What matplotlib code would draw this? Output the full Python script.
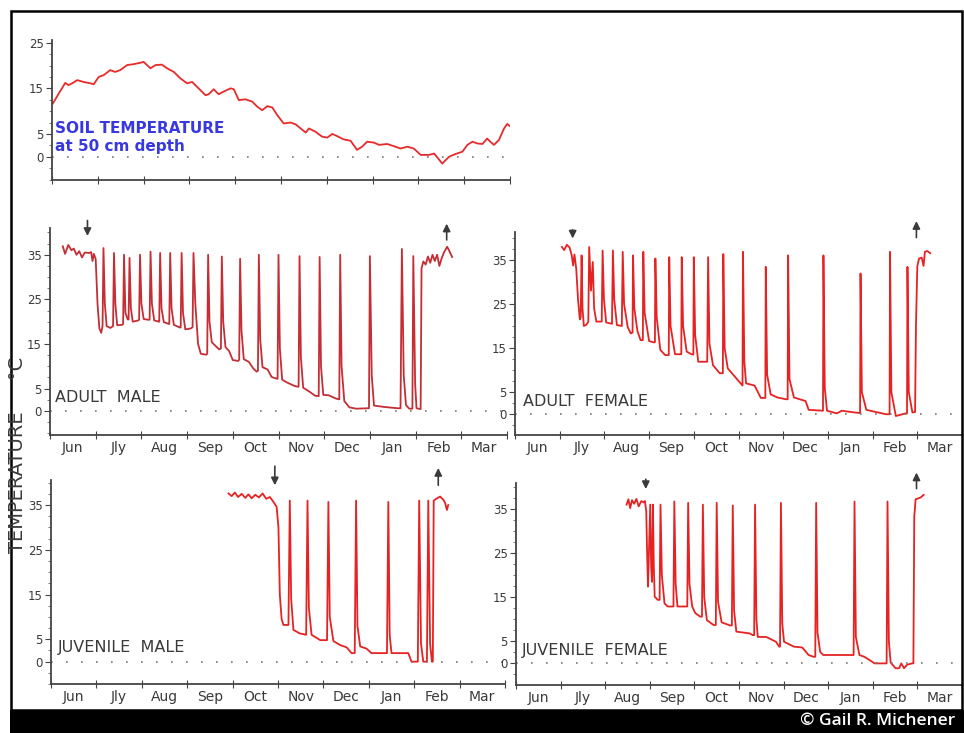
import matplotlib
matplotlib.use('Agg')
import matplotlib.pyplot as plt
from matplotlib.patches import Rectangle
from matplotlib.ticker import FixedLocator

# x values are months after 1 June (0 = start of Jun, 10 = end of Mar), y in deg C
months = ['Jun', 'Jly', 'Aug', 'Sep', 'Oct', 'Nov', 'Dec', 'Jan', 'Feb', 'Mar']

soil_x = [0.02, 0.15, 0.29, 0.36, 0.44, 0.55, 0.69, 0.84, 0.91, 1.02, 1.13, 1.27, 1.38, 1.49,
          1.64, 1.78, 1.93, 2.00, 2.15, 2.26, 2.40, 2.51, 2.66, 2.80, 2.95, 3.06, 3.20, 3.35,
          3.42, 3.53, 3.64, 3.75, 3.90, 3.97, 4.08, 4.22, 4.37, 4.48, 4.59, 4.70, 4.81, 4.92,
          5.06, 5.21, 5.32, 5.43, 5.54, 5.61, 5.75, 5.90, 6.01, 6.12, 6.23, 6.37, 6.52, 6.66,
          6.77, 6.88, 7.03, 7.14, 7.32, 7.50, 7.61, 7.76, 7.90, 8.05, 8.23, 8.34, 8.41, 8.52,
          8.67, 8.81, 8.96, 9.07, 9.18, 9.29, 9.40, 9.50, 9.57, 9.65, 9.76, 9.87, 9.94, 10.0]
soil_y = [11.7, 13.9, 16.2, 15.7, 16.1, 16.8, 16.4, 16.1, 15.9, 17.5, 17.9, 19.0, 18.6, 19.0,
          20.1, 20.3, 20.6, 20.8, 19.4, 20.1, 20.2, 19.4, 18.6, 17.2, 16.1, 16.4, 15.0, 13.5,
          13.7, 14.8, 13.7, 14.3, 15.0, 14.8, 12.4, 12.6, 12.1, 11.0, 10.2, 11.1, 10.8, 9.1,
          7.3, 7.5, 7.1, 6.2, 5.3, 6.2, 5.5, 4.4, 4.2, 5.0, 4.5, 3.8, 3.5, 1.5,
          2.2, 3.3, 3.1, 2.6, 2.8, 2.2, 1.8, 2.2, 1.8, 0.4, 0.4, 0.7, -0.1, -1.5,
          0.0, 0.6, 1.1, 2.6, 3.3, 2.9, 2.8, 4.0, 3.3, 2.6, 3.7, 6.2, 7.2, 6.7]

am_x = [0.28, 0.33, 0.40, 0.47, 0.52, 0.58, 0.64, 0.70, 0.76, 0.86, 0.90, 0.93, 0.96, 1.00, 1.04, 1.08, 1.12,
        1.15, 1.17, 1.20, 1.24, 1.32, 1.38, 1.40, 1.43, 1.47, 1.58, 1.60, 1.62, 1.65, 1.70,
        1.72, 1.74, 1.77, 1.81, 1.94, 1.95, 1.97, 2.00, 2.05, 2.17, 2.18, 2.20, 2.23, 2.28, 2.38,
        2.39, 2.41, 2.44, 2.49, 2.60, 2.61, 2.63, 2.66, 2.71, 2.84, 2.86, 2.88, 2.91, 2.96, 3.05, 3.10,
        3.12, 3.14, 3.18, 3.24, 3.30, 3.42, 3.44, 3.46, 3.49, 3.54, 3.62, 3.70,
        3.74, 3.76, 3.79, 3.84, 3.92, 4.00, 4.12, 4.14, 4.16, 4.19, 4.24, 4.35, 4.45, 4.52,
        4.55, 4.57, 4.60, 4.65, 4.76, 4.85, 4.97, 4.98, 5.00, 5.03, 5.08, 5.20, 5.35, 5.43,
        5.44, 5.46, 5.49, 5.54, 5.68, 5.80, 5.87, 5.88, 5.90, 5.93, 5.98, 6.10, 6.25, 6.32,
        6.33, 6.35, 6.38, 6.44, 6.55, 6.70, 6.97, 6.98, 7.00, 7.04, 7.09, 7.30, 7.60, 7.66,
        7.67, 7.70, 7.74, 7.79, 7.86, 7.92, 7.93, 7.95, 7.99, 8.02, 8.11,
        8.13, 8.17, 8.22, 8.27, 8.32, 8.37, 8.42, 8.47, 8.52, 8.57, 8.62, 8.69, 8.74, 8.80]
am_y = [36.9, 35.2, 37.2, 36.0, 36.4, 35.0, 35.8, 34.4, 35.5, 35.4, 35.6, 33.6, 35.2, 34.0, 24.0, 18.5, 17.5,
        19.0, 36.5, 24.0, 19.0, 18.6, 19.0, 35.4, 24.0, 19.2, 19.3, 19.5, 35.0, 22.0, 20.5,
        20.5, 34.3, 23.0, 20.0, 20.3, 20.5, 35.0, 24.0, 20.6, 20.4, 20.5, 35.7, 24.0, 20.3, 20.0,
        20.0, 35.4, 23.0, 19.9, 19.5, 19.5, 35.4, 23.0, 19.3, 18.7, 18.7, 35.4, 22.0, 18.3, 18.4, 18.6,
        18.8, 35.4, 24.0, 15.0, 12.8, 12.6, 12.8, 35.0, 20.0, 15.4, 14.6, 13.8,
        14.0, 34.6, 20.0, 14.3, 13.4, 11.4, 11.2, 11.5, 34.1, 18.0, 11.6, 11.0, 9.5, 8.8,
        9.0, 35.0, 16.0, 9.8, 9.3, 7.6, 7.2, 7.2, 35.0, 14.0, 7.0, 6.3, 5.6, 5.4,
        5.4, 34.7, 12.0, 5.2, 4.3, 3.4, 3.3, 3.3, 34.5, 10.0, 3.6, 3.5, 2.8, 2.6,
        2.6, 35.0, 10.0, 2.2, 0.8, 0.5, 0.6, 0.6, 34.7, 8.0, 1.2, 0.9, 0.6, 0.6,
        0.6, 36.3, 8.0, 1.3, 0.5, 0.5, 0.5, 34.7, 6.0, 0.6, 0.4,
        32.0, 33.5, 32.8, 34.6, 33.2, 35.0, 33.6, 35.0, 32.5, 34.2, 35.5, 36.8, 35.8, 34.5]

af_x = [1.05, 1.10, 1.16, 1.22, 1.27, 1.30, 1.33, 1.37, 1.41, 1.45, 1.47,
        1.49, 1.51, 1.54, 1.60, 1.64, 1.66, 1.70, 1.74, 1.77, 1.82, 1.93,
        1.94, 1.96, 1.99, 2.04, 2.16, 2.17, 2.19, 2.22, 2.28, 2.38,
        2.39, 2.41, 2.44, 2.52, 2.59, 2.62, 2.63, 2.64, 2.67, 2.74, 2.81, 2.85,
        2.86, 2.87, 2.90, 3.00, 3.10, 3.12, 3.13, 3.14, 3.17, 3.25, 3.36, 3.43,
        3.44, 3.45, 3.48, 3.58, 3.71, 3.72, 3.73, 3.76, 3.84, 3.95, 3.99,
        4.00, 4.03, 4.10, 4.30, 4.32, 4.35, 4.43, 4.58, 4.64,
        4.65, 4.66, 4.69, 4.76, 4.92, 5.06, 5.09, 5.10, 5.13, 5.17, 5.36, 5.50, 5.60,
        5.61, 5.64, 5.72, 5.87, 6.06, 6.10, 6.11, 6.14, 6.24, 6.50, 6.57, 6.89,
        6.90, 6.93, 6.98, 7.20, 7.31, 7.68, 7.72, 7.73, 7.76, 7.86, 8.30, 8.38,
        8.39, 8.42, 8.52, 8.74, 8.77, 8.78, 8.81, 8.89, 8.95,
        8.97, 9.00, 9.04, 9.10, 9.14, 9.17, 9.22, 9.29]
af_y = [37.9, 37.2, 38.4, 37.8, 36.0, 33.7, 36.2, 33.0, 26.0, 21.5, 22.0,
        36.0, 24.0, 20.0, 20.3, 21.0, 37.9, 28.0, 34.5, 24.0, 21.0, 21.0,
        21.0, 37.1, 26.0, 20.8, 20.5, 20.5, 37.1, 26.0, 20.2, 20.0,
        20.0, 36.8, 25.0, 19.8, 18.3, 18.5, 18.5, 36.0, 24.0, 18.8, 16.8, 16.8,
        16.8, 36.8, 23.0, 16.6, 16.3, 16.3, 16.3, 35.3, 22.0, 14.6, 13.4, 13.4,
        13.4, 35.6, 20.0, 13.6, 13.6, 13.6, 35.6, 20.0, 14.2, 13.6, 13.5,
        35.6, 18.0, 11.9, 11.9, 35.6, 16.0, 11.1, 9.3, 9.3,
        9.3, 36.3, 15.0, 10.4, 8.5, 6.8, 6.5, 36.8, 12.0, 7.0, 6.5, 3.7, 3.7,
        33.4, 9.0, 4.5, 3.8, 3.4, 3.4, 36.0, 8.0, 3.8, 3.0, 1.0, 0.8,
        36.0, 6.0, 0.8, 0.2, 0.8, 0.3, 0.3, 31.9, 5.0, 1.0, 0.0, 0.0,
        36.8, 5.0, -0.4, 0.2, 0.2, 33.4, 5.0, 0.4, 0.5,
        20.0, 33.5, 35.3, 35.5, 33.6, 36.8, 37.0, 36.5]

jm_x = [3.91, 3.98, 4.05, 4.12, 4.20, 4.28, 4.35, 4.42, 4.50, 4.58, 4.66, 4.74, 4.82, 4.90, 4.97,
        5.01, 5.04, 5.08, 5.12, 5.23, 5.26, 5.29, 5.34, 5.48, 5.62,
        5.65, 5.68, 5.74, 5.93, 6.08, 6.11, 6.14, 6.22, 6.37, 6.51, 6.62, 6.69,
        6.72, 6.75, 6.81, 6.95, 7.06, 7.40, 7.43, 7.46, 7.50, 7.87, 7.94, 8.08,
        8.11, 8.15, 8.20, 8.28, 8.31, 8.35, 8.39, 8.41,
        8.43, 8.50, 8.57, 8.64, 8.68, 8.72, 8.75]
jm_y = [37.6, 37.0, 37.8, 36.8, 37.5, 36.6, 37.4, 36.5, 37.3, 36.7, 37.6, 36.4, 36.8, 35.7, 34.6,
        30.0, 15.0, 9.5, 8.2, 8.2, 36.0, 14.0, 7.1, 6.3, 6.0,
        36.0, 12.0, 6.0, 4.8, 4.8, 35.7, 10.0, 4.6, 3.7, 3.2, 1.9, 1.9,
        36.0, 8.0, 3.4, 2.9, 1.9, 1.9, 35.7, 6.0, 1.9, 1.9, 0.0, 0.0,
        36.0, 4.0, 0.0, 0.0, 36.0, 4.0, 0.0, 0.0,
        36.0, 36.5, 36.9, 36.2, 35.5, 33.9, 35.0]

jf_x = [2.48, 2.52, 2.56, 2.60, 2.65, 2.70, 2.75, 2.81, 2.86, 2.89, 2.92, 2.94, 2.96,
        3.01, 3.03, 3.05, 3.07, 3.09, 3.11, 3.18, 3.22,
        3.24, 3.27, 3.33, 3.40, 3.53, 3.55, 3.58, 3.62, 3.84,
        3.86, 3.89, 3.95, 4.02, 4.13, 4.17, 4.19, 4.22, 4.28, 4.43, 4.48,
        4.50, 4.53, 4.61, 4.80, 4.84, 4.86, 4.89, 4.94, 5.24, 5.31, 5.34,
        5.36, 5.39, 5.42, 5.61, 5.83, 5.90, 5.92, 5.94, 5.97, 6.01, 6.23, 6.42, 6.56, 6.67, 6.71,
        6.73, 6.76, 6.82, 6.89, 7.52, 7.57, 7.59, 7.62, 7.70, 7.81, 7.92, 8.04, 8.26, 8.31,
        8.33, 8.36, 8.40, 8.51, 8.59, 8.64, 8.70, 8.77, 8.88, 8.91,
        8.93, 8.96, 9.07, 9.14]
jf_y = [36.0, 37.2, 35.2, 37.0, 36.2, 37.3, 35.6, 36.8, 36.5, 36.8, 34.6, 25.0, 17.4,
        36.0, 22.0, 18.5, 36.0, 22.0, 15.1, 14.4, 14.4,
        36.0, 20.0, 13.6, 12.9, 12.9, 36.7, 18.0, 12.9, 12.9,
        36.4, 18.0, 12.9, 11.4, 10.6, 10.6, 36.0, 15.0, 9.8, 8.7, 8.7,
        36.4, 14.0, 9.3, 8.6, 8.6, 35.8, 12.0, 7.2, 6.8, 6.4, 6.4,
        36.0, 10.0, 6.0, 6.0, 4.9, 3.8, 3.8, 36.4, 9.0, 4.9, 3.8, 3.6, 1.9, 1.5, 1.5,
        36.4, 7.0, 2.6, 1.9, 1.9, 1.9, 36.7, 6.0, 1.9, 1.5, 0.8, 0.0, 0.0, 0.0,
        36.7, 5.0, 0.2, -1.1, -1.1, 0.0, -1.1, -0.3, 0.0, 0.0,
        33.3, 37.2, 37.6, 38.2]

W, H = 964, 733
fig = plt.figure(figsize=(W / 100, H / 100), dpi=100)
fig.patch.set_facecolor('white')

INK = '#3a3a3a'


def box(left, right, top, bottom):
    return [left / W, 1 - bottom / H, (right - left) / W, (bottom - top) / H]


def panel(rect, xmax, ylim, x, y, color, yticks, label=None, arrows=(), month_labels=True):
    ax = fig.add_axes(rect)
    ax.plot(x, y, color=color, lw=1.3)
    ax.axhline(0, color='#777777', lw=1.2, ls=(0, (1, 8)))
    ax.set_xlim(0, xmax)
    ax.set_ylim(*ylim)
    ax.set_facecolor('none')
    for s in ['top', 'right']:
        ax.spines[s].set_visible(False)
    for s in ['left', 'bottom']:
        ax.spines[s].set_color('#444444')
        ax.spines[s].set_linewidth(1.3)
    ax.set_xticks(range(11))
    ax.set_xticklabels([])
    ax.tick_params(axis='x', which='major', direction='inout', length=6, color='#444444')
    if month_labels:
        ax.set_xticks([m + 0.5 for m in range(10)], labels=months, minor=True)
    ax.tick_params(axis='x', which='minor', length=0, labelsize=10, pad=4, labelcolor=INK)
    ax.set_yticks(yticks)
    ax.set_yticklabels([str(t) for t in yticks])
    ax.yaxis.set_minor_locator(FixedLocator([v / 2 for v in range(-10, 84, 5) if v / 2 not in yticks]))
    ax.tick_params(axis='y', which='major', length=4, labelsize=8.5, labelcolor=INK, color='#444444', pad=2)
    ax.tick_params(axis='y', which='minor', length=2, color='#666666')
    if label:
        ax.text(label[1], label[2], label[0], fontsize=11.5, color=INK, va='center', ha='left')
    for ax_x, tail, head in arrows:
        ax.annotate('', xy=(ax_x, head), xytext=(ax_x, tail), annotation_clip=False,
                    arrowprops=dict(arrowstyle='-|>', color=INK, lw=1.2, mutation_scale=11))
    return ax


# soil temperature
soil = panel(box(52, 510, 40, 180), 10, (-5.1, 25.6), soil_x, soil_y, '#e82a2a', [0, 5, 15, 25],
             month_labels=False)
soil.text(0.07, 6.3, 'SOIL TEMPERATURE', weight='bold', fontsize=11,
          color='#3838e0', va='center')
soil.text(0.07, 2.3, 'at 50 cm depth', weight='bold', fontsize=11,
          color='#3838e0', va='center')

ticks = [0, 5, 15, 25, 35]

panel(box(50, 507, 228, 435), 10, (-5.4, 41.0), am_x, am_y, '#c42e34', ticks,
      label=('ADULT  MALE', 0.11, 2.9), arrows=[(0.82, 43.3, 38.6), (8.68, 37.7, 42.6)])

panel(box(515, 962, 232, 435), 447 / 45.3, (-4.7, 41.3), af_x, af_y, '#e62222', ticks,
      label=('ADULT  FEMALE', 0.18, 3.0), arrows=[(1.29, 42.4, 39.2), (8.98, 39.4, 44.4)])

panel(box(51, 505, 480, 684), 10, (-5.0, 40.6), jm_x, jm_y, '#e62222', ticks,
      label=('JUVENILE  MALE', 0.15, 3.1), arrows=[(4.93, 44.3, 38.8), (8.53, 38.8, 43.9)])

panel(box(516, 962, 483, 685), 446 / 45.3, (-4.9, 40.9), jf_x, jf_y, '#e62222', ticks,
      label=('JUVENILE  FEMALE', 0.13, 3.0), arrows=[(2.91, 42.4, 38.9), (8.98, 39.0, 43.9)])

fig.text(18 / W, 1 - 455 / H, 'TEMPERATURE     °C', rotation=90, fontsize=14, color=INK,
         ha='center', va='center')

# frame and credit bar
fig.add_artist(Rectangle((11 / W, 1 - 710 / H), (962 - 11) / W, (710 - 11) / H,
                         transform=fig.transFigure, fill=False, ec='black', lw=1.8))
fig.add_artist(Rectangle((10 / W, 0), (W - 10) / W, 23 / H, transform=fig.transFigure,
                         fc='black', ec='none'))
fig.text(955 / W, 1 - 721 / H, '© Gail R. Michener', color='white', fontsize=12.5,
         family='Open Sans', weight='semibold', ha='right', va='center')

fig.savefig('out.png', dpi=100)
